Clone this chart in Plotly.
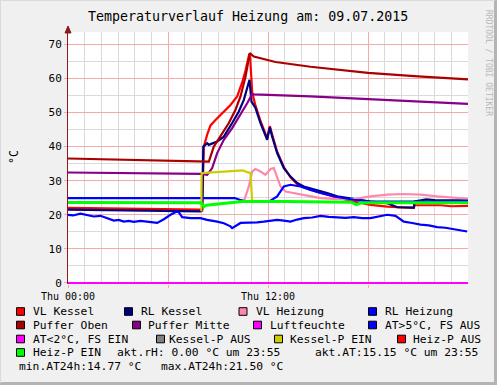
import plotly.graph_objects as go

# ---------------- data (hours since Thu 00:00, values in °C) ----------------
vk_h = [0, 2, 4, 6, 7.95, 8.05, 8.15, 8.35, 8.55, 8.85, 9.25, 9.75, 10.15, 10.45, 10.65, 10.88, 10.93, 11.0, 11.05,
        11.25, 11.55, 11.95, 12.11, 12.25, 12.55, 12.95, 13.35, 13.75, 14.15, 14.95, 15.55, 16.15, 17.15, 18.15,
        19.15, 20.15, 20.75, 20.8, 22.35, 23.0, 24]
vk_v = [22.0, 21.9, 21.8, 21.6, 21.5, 21.0, 40.0, 43.5, 46.2, 47.8, 49.8, 52.2, 54.7, 58.8, 62.3, 67.2, 66.0, 61.0, 56.0,
        52.0, 47.5, 42.5, 46.0, 43.5, 38.5, 34.0, 31.0, 29.0, 28.0, 26.8, 26.0, 25.0, 23.9, 22.9,
        22.4, 22.1, 22.0, 22.8, 22.8, 22.5, 22.6]

rk_h = [0, 2, 4, 6, 7.95, 8.05, 8.12, 8.35, 8.45, 8.95, 9.35, 9.85, 10.25, 10.55, 10.81, 10.89, 11.01, 11.25, 11.55,
        11.95, 12.11, 12.25, 12.55, 12.95, 13.35, 13.75, 14.15, 14.95, 15.55, 16.15, 17.15, 18.15, 19.15, 19.75,
        20.75, 20.8, 21.5, 22.0, 23.0, 24]
rk_v = [21.5, 21.4, 21.3, 21.2, 21.0, 21.5, 40.0, 41.0, 40.5, 41.5, 42.9, 46.9, 50.3, 53.7, 58.6, 59.6, 53.2, 51.3, 46.9,
        42.0, 45.7, 42.9, 38.1, 33.7, 31.2, 29.3, 28.3, 27.3, 26.4, 25.4, 24.6, 23.9, 23.4, 22.2,
        22.1, 23.9, 24.5, 24.3, 24.2, 24.2]

vh_h = [10.45, 10.55, 10.85, 11.05, 11.25, 11.55, 11.85, 12.15, 12.35, 12.55, 12.75, 13.05, 13.45, 14.05, 15.15,
        16.15, 17.15, 18.15, 19.15, 20.15, 21.15, 22.15, 23.15, 24]
vh_v = [23.6, 23.9, 28.3, 32.7, 33.4, 32.7, 31.7, 33.4, 33.7, 31.2, 28.3, 26.8, 26.4, 25.8, 24.9,
        24.6, 24.6, 25.4, 25.9, 26.1, 25.9, 25.4, 25.1, 24.7]

rh_h = [0, 4, 8, 10.0, 10.3, 10.6, 11.5, 12.1, 12.55, 12.95, 13.35, 13.95, 14.55, 15.15, 16.15, 17.15, 18.15, 20.0,
        22.0, 24]
rh_v = [24.9, 24.9, 24.9, 24.9, 24.4, 24.0, 23.9, 24.0, 25.4, 28.3, 28.8, 28.3, 27.3, 26.4, 25.2, 24.4, 23.9, 23.8,
        23.9, 24.1]

po_h = [0, 4, 8.3, 8.45, 8.75, 9.15, 9.65, 10.05, 10.35, 10.65, 10.91, 11.15, 12.45, 14.55, 18.0, 21.0, 24]
po_v = [36.5, 36.0, 35.5, 35.6, 40.0, 42.9, 46.9, 50.8, 54.7, 60.5, 67.4, 66.4, 64.8, 63.4, 61.6, 60.6, 59.7]

pm_h = [0, 4, 8.0, 8.35, 8.65, 8.95, 9.35, 9.85, 10.35, 10.75, 11.05, 11.15, 14.55, 18.0, 24]
pm_v = [32.4, 32.2, 32.0, 31.7, 33.7, 38.1, 42.0, 45.4, 49.3, 52.7, 55.4, 55.3, 54.7, 53.9, 52.5]

lf_h = [0, 24]
lf_v = [0.0, 0.0]

at_h = [0, 0.3, 0.75, 1.15, 1.55, 1.95, 2.35, 2.75, 3.05, 3.35, 3.65, 3.95, 4.35, 4.75, 5.05, 5.35, 5.75, 6.15, 6.55,
        6.65, 6.85, 7.35, 7.95, 8.35, 8.95, 9.35, 9.75, 9.85, 10.35, 10.95, 11.35, 11.75, 12.15, 12.55, 12.95,
        13.35, 13.75, 14.15, 14.65, 15.15, 15.65, 16.15, 16.65, 17.15, 17.65, 18.15, 18.65, 19.15, 19.65, 20.15,
        20.65, 21.15, 21.65, 22.15, 22.65, 23.15, 23.55, 23.95]
at_v = [20.0, 19.8, 20.3, 20.0, 19.5, 19.7, 19.0, 18.3, 18.5, 18.0, 18.2, 17.9, 18.2, 18.0, 17.8, 17.6, 18.7, 20.0,
        21.0, 20.7, 19.3, 19.0, 19.0, 18.5, 18.0, 17.5, 16.6, 16.1, 17.6, 17.6, 17.8, 18.0, 18.3, 18.5, 18.3,
        18.0, 18.6, 19.0, 19.2, 19.7, 19.4, 19.3, 19.1, 19.3, 19.0, 19.0, 19.6, 20.0, 19.7, 18.0,
        17.6, 17.1, 16.9, 16.4, 16.2, 15.8, 15.5, 15.1]

at2_h = [0, 24]
at2_v = [0.0, 0.0]

ke_h = [8.0, 8.02, 8.2, 9.0, 10.0, 10.5, 10.75, 10.95, 11.05, 11.2]
ke_v = [21.0, 32.2, 32.3, 32.6, 33.0, 33.0, 32.5, 32.3, 23.9, 23.7]

he_h = [0, 4, 7.95, 8.05, 8.15, 8.3, 9.0, 10.45, 13.0, 17.0, 17.3, 17.6, 20, 24]
he_v = [23.6, 23.5, 23.5, 23.1, 22.4, 22.8, 23.2, 23.9, 23.9, 23.7, 23.0, 23.5, 23.5, 23.5]

x_tickvals = [0, 6, 12, 18]
x_ticktext = ["Thu 00:00", "", "Thu 12:00", ""]
y_tickvals = [0, 10, 20, 30, 40, 50, 60, 70]

title = "Temperaturverlauf Heizung am: 09.07.2015"
legend_rows = [
    [("VL Kessel", "#FF0000"), ("RL Kessel", "#000080"), ("VL Heizung", "#FF88AA"), ("RL Heizung", "#0000FF")],
    [("Puffer Oben", "#AA0000"), ("Puffer Mitte", "#880088"), ("Luftfeuchte", "#FF00FF"), ("AT>5°C, FS AUS", "#0000FF")],
    [("AT<2°C, FS EIN", "#FF00FF"), ("Kessel-P AUS", "#808080"), ("Kessel-P EIN", "#CCCC00"), ("Heiz-P AUS", "#FF0000")],
    [("Heiz-P EIN", "#00FF00")],
]
stat_rows = [
    ["akt.rH: 0.00 °C um 23:55", "akt.AT:15.15 °C um 23:55"],
    ["min.AT24h:14.77 °C", "max.AT24h:21.50 °C"],
]

# ---------------- layout geometry ----------------
W, H = 497, 385
L, R, T, B = 68, 29, 32, 101
PW, PH = W - L - R, H - T - B
MONO = "DejaVu Sans Mono"


def px(xp):
    return (xp - L) / PW


def py(yp):
    return 1 - (yp - T) / PH


fig = go.Figure()
series = [
    (vk_h, vk_v, "#FF0000", 2.2),
    (rk_h, rk_v, "#000080", 2.2),
    (vh_h, vh_v, "#FF88AA", 2.2),
    (rh_h, rh_v, "#0000FF", 2.2),
    (po_h, po_v, "#AA0000", 2.2),
    (pm_h, pm_v, "#880088", 2.2),
    (lf_h, lf_v, "#FF00FF", 2.2),
    (at_h, at_v, "#0000FF", 2.2),
    (at2_h, at2_v, "#FF00FF", 2.2),
    (ke_h, ke_v, "#CCCC00", 2.2),
    (he_h, he_v, "#00FF00", 3.0),
]
for hx, vy, col, lw in series:
    fig.add_trace(go.Scatter(x=hx, y=vy, mode="lines", line=dict(color=col, width=lw),
                             hoverinfo="skip", showlegend=False))

fig.update_layout(
    width=W, height=H, margin=dict(l=L, r=R, t=T, b=B, pad=0),
    paper_bgcolor="#F0F0F0", plot_bgcolor="#FFFFFF",
    font=dict(family=MONO, color="#000000"),
    showlegend=False,
    xaxis=dict(range=[0, 24], tickvals=x_tickvals, ticktext=x_ticktext, showgrid=True,
               gridcolor="#F2AAAA", gridwidth=1, zeroline=False, showline=False,
               ticks="outside", ticklen=3, tickcolor="#F2AAAA",
               tickfont=dict(family=MONO, size=10, color="#000000"),
               minor=dict(dtick=1, showgrid=True, gridcolor="#DADADA", gridwidth=1, ticks="")),
    yaxis=dict(range=[-0.3, 73.6], tickvals=y_tickvals, showgrid=True, gridcolor="#F2AAAA", gridwidth=1,
               zeroline=False, showline=True, linecolor="#8B1A1A", linewidth=1,
               ticks="outside", ticklen=3, tickcolor="#F2AAAA",
               tickfont=dict(family=MONO, size=11, color="#000000"),
               minor=dict(dtick=5, showgrid=True, gridcolor="#DADADA", gridwidth=1, ticks="")),
)

shapes = []
ann = []
# y-axis arrow
shapes.append(dict(type="path", xref="paper", yref="paper",
                   path=f"M {px(65)} {py(33)} L {px(68)} {py(26)} L {px(71)} {py(33)} Z",
                   fillcolor="#8B1A1A", line=dict(color="#8B1A1A", width=1)))
# frame shading
shapes.append(dict(type="line", xref="paper", yref="paper", x0=px(495.5), x1=px(495.5), y0=py(0), y1=py(385),
                   line=dict(color="#B4B4B4", width=3)))
shapes.append(dict(type="line", xref="paper", yref="paper", x0=px(0), x1=px(497), y0=py(383.5), y1=py(383.5),
                   line=dict(color="#B4B4B4", width=3)))
shapes.append(dict(type="line", xref="paper", yref="paper", x0=px(0.5), x1=px(0.5), y0=py(0), y1=py(383),
                   line=dict(color="#DADADA", width=1)))
shapes.append(dict(type="line", xref="paper", yref="paper", x0=px(0), x1=px(495), y0=py(0.5), y1=py(0.5),
                   line=dict(color="#DADADA", width=1)))

# title
ann.append(dict(text=title, x=px(248), y=py(16), xref="paper", yref="paper", showarrow=False,
                xanchor="center", yanchor="middle", font=dict(family=MONO, size=13.3, color="#000000")))
# y label
ann.append(dict(text="°C", x=px(14), y=py(157), xref="paper", yref="paper", showarrow=False, textangle=-90,
                xanchor="center", yanchor="middle", font=dict(family=MONO, size=11.5, color="#000000")))
# watermark
ann.append(dict(text="RRDTOOL / TOBI OETIKER", x=px(488), y=py(8), xref="paper", yref="paper", showarrow=False,
                textangle=90, xanchor="center", yanchor="top", font=dict(family=MONO, size=8, color="#B8B8B8")))

# legend
row_y = [311.5, 325, 339, 352.5]
box_x = [[16, 124, 238.5, 368], [16, 132, 253, 368], [16, 156, 274, 397], [16]]
txt_x = [[30.7, 138.5, 254, 383], [30.7, 146, 267.5, 383], [30.7, 166.7, 288.3, 410.7], [30.7]]
LF = 11.3
for r, row in enumerate(legend_rows):
    for c, (label, col) in enumerate(row):
        bx = box_x[r][c]
        yc = row_y[r]
        shapes.append(dict(type="rect", xref="paper", yref="paper", x0=px(bx + 0.5), x1=px(bx + 8.5),
                           y0=py(yc + 3.8), y1=py(yc - 3.8), fillcolor=col, line=dict(color="#000000", width=1)))
        ann.append(dict(text=label, x=px(txt_x[r][c]), y=py(yc), xref="paper", yref="paper", showarrow=False,
                        xanchor="left", yanchor="middle", font=dict(family=MONO, size=LF, color="#000000")))
stat_pos = [[(115, 352.5), (312.7, 352.5)], [(16.7, 366.5), (158.7, 366.5)]]
for r, row in enumerate(stat_rows):
    for c, txt in enumerate(row):
        sx, sy = stat_pos[r][c]
        ann.append(dict(text=txt, x=px(sx), y=py(sy), xref="paper", yref="paper", showarrow=False,
                        xanchor="left", yanchor="middle", font=dict(family=MONO, size=LF, color="#000000")))

fig.update_layout(shapes=shapes, annotations=ann)
fig.write_html("out.html", config={"displayModeBar": False},
               post_script="document.body.style.margin='0px';")
